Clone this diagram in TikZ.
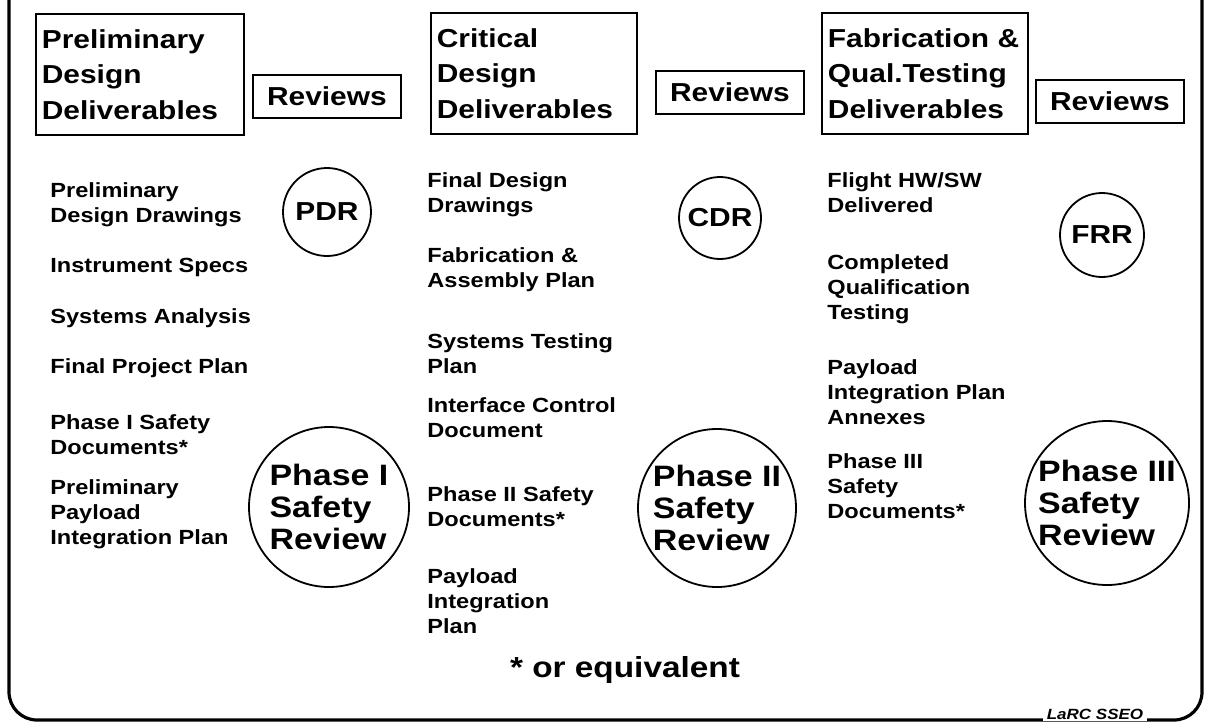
\documentclass[tikz,border=0pt]{standalone}
\usepackage{fontspec}
\setmainfont{Liberation Sans}[FakeStretch=1.15]
\usetikzlibrary{positioning}

\begin{document}
\begin{tikzpicture}[
    x=0.5pt, y=-0.5pt,
    deliv/.style={draw, line width=0.9pt, anchor=north west, align=left, inner xsep=3pt, text width=97pt, minimum height=60.5pt, font=\bfseries\fontsize{13}{17.75}\selectfont},
    rev/.style={draw, line width=0.9pt, anchor=north west, minimum width=74pt, minimum height=21.5pt, inner sep=0pt, font=\bfseries\fontsize{13}{15}\selectfont},
    item/.style={anchor=base west, align=left, inner sep=0pt, font=\bfseries\fontsize{10.25}{12.5}\selectfont},
    milestone/.style={draw, circle, line width=0.9pt, inner sep=0pt, font=\bfseries\fontsize{13}{15}\selectfont},
    safety/.style={draw, circle, line width=0.9pt, inner sep=0pt, align=left, font=\bfseries\fontsize{14.75}{16}\selectfont}
]
    \useasboundingbox (0,0) rectangle (1208,723);

    % outer frame
    \draw[line width=1.6pt, rounded corners=14pt] (9,-10) -- (9,720) -- (1202,720) -- (1202,-10);
    \node[fill=white, inner xsep=2pt, inner ysep=1pt, font=\bfseries\itshape\fontsize{7.4}{8}\selectfont] (larc) at (1095,714) {LaRC SSEO};

    % column heads
    \node[deliv, text width=98pt] (pdhead) at (35,13) {Preliminary\\Design\\Deliverables};
    \node[rev] (pdrev) at (252,74) {Reviews};
    \node[deliv] (cdhead) at (430,12) {Critical\\Design\\Deliverables};
    \node[rev] (cdrev) at (655,70) {Reviews};
    \node[deliv] (fqhead) at (821,12) {Fabrication \&\\Qual.Testing\\Deliverables};
    \node[rev] (fqrev) at (1035,79) {Reviews};

    % preliminary design deliverables (placed by last baseline)
    \node[item] (pdd) at (50,222) {Preliminary\\Design Drawings};
    \node[item] (spec) at (50,272) {Instrument Specs};
    \node[item] (sysan) at (50,323) {Systems Analysis};
    \node[item] (fpp) at (50,373) {Final Project Plan};
    \node[item] (safe1) at (50,454) {Phase I Safety\\Documents*};
    \node[item] (ppip) at (50,544) {Preliminary\\Payload\\Integration Plan};

    % critical design deliverables
    \node[item] (fdd) at (427,212) {Final Design\\Drawings};
    \node[item] (fap) at (427,287) {Fabrication \&\\Assembly Plan};
    \node[item] (stp) at (427,373) {Systems Testing\\Plan};
    \node[item] (icd) at (427,437) {Interface Control\\Document};
    \node[item] (safe2) at (427,526) {Phase II Safety\\Documents*};
    \node[item] (pip) at (427,633) {Payload\\Integration\\Plan};

    % fabrication and qualification deliverables
    \node[item] (fhw) at (827,212) {Flight HW/SW\\Delivered};
    \node[item] (cqt) at (827,319) {Completed\\Qualification\\Testing};
    \node[item] (pipa) at (827,424) {Payload\\Integration Plan\\Annexes};
    \node[item] (safe3) at (827,518) {Phase III\\Safety\\Documents*};

    % reviews
    \node[milestone, minimum size=44pt] (pdr) at (327,212) {PDR};
    \node[milestone, minimum size=41pt] (cdr) at (720,218) {CDR};
    \node[milestone, minimum size=42pt] (frr) at (1102,235) {FRR};
    \node[safety, minimum size=80pt] (sr1) at (329,507) {Phase I\\Safety\\Review};
    \node[safety, minimum size=79pt] (sr2) at (717,508) {Phase II\\Safety\\Review};
    \node[safety, minimum size=82pt] (sr3) at (1107,503) {Phase III\\Safety\\Review};

    \node[font=\bfseries\fontsize{14.5}{16}\selectfont] (note) at (625,670) {* or equivalent};
\end{tikzpicture}
\end{document}
